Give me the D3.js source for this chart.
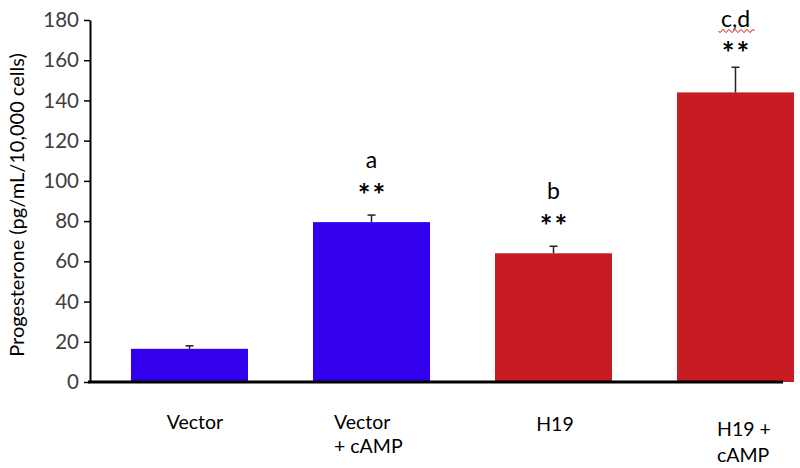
<!DOCTYPE html>
<html><head><meta charset="utf-8">
<script src="https://cdn.jsdelivr.net/npm/d3@7"></script>
<style>body{margin:0;background:#fff}svg{display:block}text{font-family:Lato,"Open Sans",sans-serif}</style>
</head><body><svg id="c" width="800" height="468"></svg>
<script>
const categories = ["Vector", "Vector\n+ cAMP", "H19", "H19 +\ncAMP"];
const values = [16.5, 79.5, 64, 144];
const errors = [1.5, 3.5, 3.5, 12.5];
const colors = ["#3300EE", "#3300EE", "#C81C24", "#C81C24"];
const stars = ["", "**", "**", "**"];
const letters = ["", "a", "b", "c,d"];
const yTicks = [0, 20, 40, 60, 80, 100, 120, 140, 160, 180];

const svg = d3.select("#c");
const y = d3.scaleLinear().domain([0, 180]).range([382, 20]);
const x = d3.scaleBand().domain(categories).range([98.5, 826.5]).paddingInner(0.357).paddingOuter(0.1785);

// bars
svg.selectAll("rect.bar").data(categories).enter().append("rect")
  .attr("x", d => x(d)).attr("width", x.bandwidth())
  .attr("y", (d, i) => y(values[i])).attr("height", (d, i) => y(0) - y(values[i]))
  .attr("fill", (d, i) => colors[i]);

// error bars (upper)
const eb = svg.append("g").attr("stroke", "#222").attr("stroke-width", 1.5);
categories.forEach((d, i) => {
  const cx = x(d) + x.bandwidth() / 2;
  eb.append("line").attr("x1", cx).attr("x2", cx).attr("y1", y(values[i])).attr("y2", y(values[i] + errors[i]));
  eb.append("line").attr("x1", cx - 4).attr("x2", cx + 4).attr("y1", y(values[i] + errors[i])).attr("y2", y(values[i] + errors[i]));
});

// y axis
const yAxis = d3.axisLeft(y).tickValues(yTicks).tickSize(6).tickSizeOuter(0);
const ga = svg.append("g").attr("transform", "translate(90,0)").call(yAxis);
ga.select(".domain").attr("stroke", "#000").attr("stroke-width", 2);
ga.selectAll(".tick line").attr("stroke", "#000").attr("stroke-width", 1.5);
ga.selectAll(".tick text").attr("font-size", 20.5).attr("fill", "#404040").attr("x", -11).style("font-family", "Lato,sans-serif");

// baseline
svg.append("line").attr("x1", 88).attr("x2", 783).attr("y1", y(0)).attr("y2", y(0)).attr("stroke", "#000").attr("stroke-width", 3);

// y label
svg.append("text").attr("transform", "translate(24,205) rotate(-90)").attr("text-anchor", "middle")
  .attr("font-size", 20).attr("fill", "#000").text("Progesterone (pg/mL/10,000 cells)");

// x labels
const labelPos = [
  {x: 195, y: 429, anchor: "middle", dy: 24},
  {x: 334, y: 429, anchor: "start", dy: 24},
  {x: 555, y: 431, anchor: "middle", dy: 24},
  {x: 717, y: 436, anchor: "start", dy: 26}
];
categories.forEach((d, i) => {
  const t = svg.append("text").attr("font-size", 19.5).attr("fill", "#000").attr("text-anchor", labelPos[i].anchor);
  d.split("\n").forEach((ln, j) => {
    t.append("tspan").attr("x", labelPos[i].x).attr("y", labelPos[i].y + j * labelPos[i].dy).text(ln);
  });
});

// significance annotations
categories.forEach((d, i) => {
  if (!stars[i]) return;
  const cx = x(d) + x.bandwidth() / 2;
  const top = y(values[i] + errors[i]);
  const starY = Math.max(top - 9, 64);
  const letY = Math.max(top - 47, 27);
  svg.append("text").attr("x", cx + 1).attr("y", starY).attr("text-anchor", "middle").attr("font-size", 30).attr("font-weight", "bold").attr("letter-spacing", 2).text(stars[i]);
  svg.append("text").attr("x", cx).attr("y", letY).attr("text-anchor", "middle").attr("font-size", 23).text(letters[i]);
  if (letters[i] === "c,d") {
    let p = "";
    const x0 = cx - 17, yy = letY + 4;
    for (let k = 0; k <= 36; k += 1) p += (k ? "L" : "M") + (x0 + k) + "," + (yy + 1.5 * Math.sin(k * Math.PI / 3));
    svg.append("path").attr("d", p).attr("fill", "none").attr("stroke", "#D02020").attr("stroke-width", 1);
  }
});
</script></body></html>
